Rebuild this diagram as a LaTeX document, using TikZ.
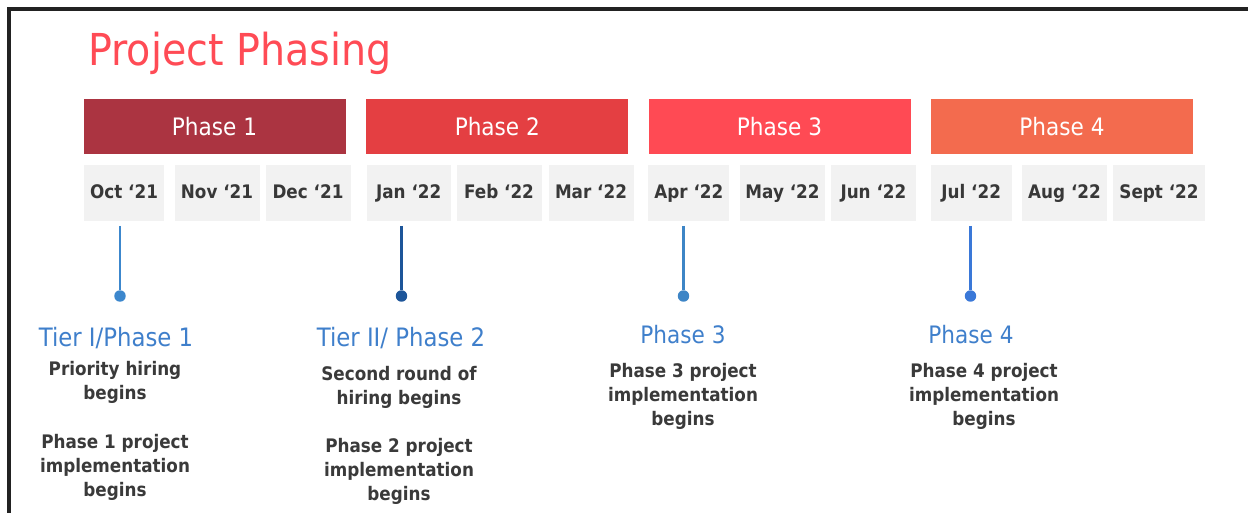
\documentclass[tikz,border=0pt]{standalone}
\usepackage{fontspec}
\setmainfont{DejaVu Sans}[FakeStretch=0.9]
\definecolor{titlered}{HTML}{FF4B55}
\definecolor{phaseA}{HTML}{AB3441}
\definecolor{phaseB}{HTML}{E43F42}
\definecolor{phaseC}{HTML}{FF4A54}
\definecolor{phaseD}{HTML}{F36B4E}
\definecolor{monthgray}{HTML}{F2F2F2}
\definecolor{monthtext}{HTML}{383838}
\definecolor{bodygray}{HTML}{3A3A3A}
\definecolor{headblue}{HTML}{3F7FCB}
\definecolor{pinA}{HTML}{3C87CD}
\definecolor{pinB}{HTML}{1D5599}
\definecolor{pinC}{HTML}{3D85C6}
\definecolor{pinD}{HTML}{3A78D8}
\definecolor{framegray}{HTML}{222222}
\begin{document}
\begin{tikzpicture}[x=0.75pt,y=-0.75pt,
  phasebar/.style={rectangle, fill=#1, minimum width=196.5pt, minimum height=41.25pt, inner sep=0pt, text=white, font=\fontsize{18}{20}\selectfont},
  monthbox/.style={rectangle, fill=monthgray, minimum width=#1, minimum height=42pt, inner sep=0pt, text height=10pt, text depth=2pt, text=monthtext, font=\bfseries\fontsize{14}{16}\selectfont},
  tierhead/.style={text=headblue, font=\fontsize{18}{20}\selectfont, inner sep=0pt},
  notetext/.style={align=center, text=bodygray, font=\bfseries\fontsize{14}{18}\selectfont, inner sep=0pt},
  pindot/.style={circle, fill=#1, minimum size=8.6pt, inner sep=0pt},
  pinline/.style={draw=#1, line width=1.9pt}]
\useasboundingbox (0,0) rectangle (1248,513);
\draw[line width=2.4pt, draw=framegray] (1248,9) -- (9,9) -- (9,513);
\node[anchor=base west, text=titlered, font=\fontsize{33}{36}\selectfont, inner sep=0pt] (title) at (88,66) {Project Phasing};
% phase bars
\node[phasebar=phaseA] (p1) at (214.5,126.5) {Phase 1};
\node[phasebar=phaseB] (p2) at (497.3,126.5) {Phase 2};
\node[phasebar=phaseC] (p3) at (779.5,126.5) {Phase 3};
\node[phasebar=phaseD] (p4) at (1062,126.5) {Phase 4};
% months
\node[monthbox=60pt] (oct) at (124,193) {Oct ‘21};
\node[monthbox=63.75pt] (nov) at (217,193) {Nov ‘21};
\node[monthbox=63.75pt] (dec) at (308,193) {Dec ‘21};
\node[monthbox=63pt] (jan) at (408.7,193) {Jan ‘22};
\node[monthbox=63.75pt] (feb) at (499,193) {Feb ‘22};
\node[monthbox=63.75pt] (mar) at (591,193) {Mar ‘22};
\node[monthbox=60.5pt] (apr) at (688.8,193) {Apr ‘22};
\node[monthbox=63.75pt] (may) at (782.5,193) {May ‘22};
\node[monthbox=63.75pt] (jun) at (873.4,193) {Jun ‘22};
\node[monthbox=60.5pt] (jul) at (971.2,193) {Jul ‘22};
\node[monthbox=63.75pt] (aug) at (1064.5,193) {Aug ‘22};
\node[monthbox=69pt] (sep) at (1159,193) {Sept ‘22};
% pins
\coordinate (t1) at (120,226);
\coordinate (t2) at (401.5,226);
\coordinate (t3) at (683.5,226);
\coordinate (t4) at (970.5,226);
\node[pindot=pinA] (d1) at (120,296) {};
\node[pindot=pinB] (d2) at (401.5,296) {};
\node[pindot=pinC] (d3) at (683.5,296) {};
\node[pindot=pinD] (d4) at (970.5,296) {};
\draw[pinline=pinA] (t1) -- (d1);
\draw[pinline=pinB] (t2) -- (d2);
\draw[pinline=pinC] (t3) -- (d3);
\draw[pinline=pinD] (t4) -- (d4);
% milestones
\node[tierhead, font=\fontsize{19}{21}\selectfont] (h1) at (116,338) {Tier I/Phase 1};
\node[tierhead, font=\fontsize{19}{21}\selectfont] (h2) at (401,338) {Tier II/ Phase 2};
\node[tierhead] (h3) at (683,335) {Phase 3};
\node[tierhead] (h4) at (971,335) {Phase 4};
\node[notetext] (n1) at (115,382) {Priority hiring\\begins};
\node[notetext] (n2) at (115,467) {Phase 1 project\\implementation\\begins};
\node[notetext] (n3) at (399,387) {Second round of\\hiring begins};
\node[notetext] (n4) at (399,471) {Phase 2 project\\implementation\\begins};
\node[notetext] (n5) at (683,396) {Phase 3 project\\implementation\\begins};
\node[notetext] (n6) at (984,396) {Phase 4 project\\implementation\\begins};
\end{tikzpicture}
\end{document}
